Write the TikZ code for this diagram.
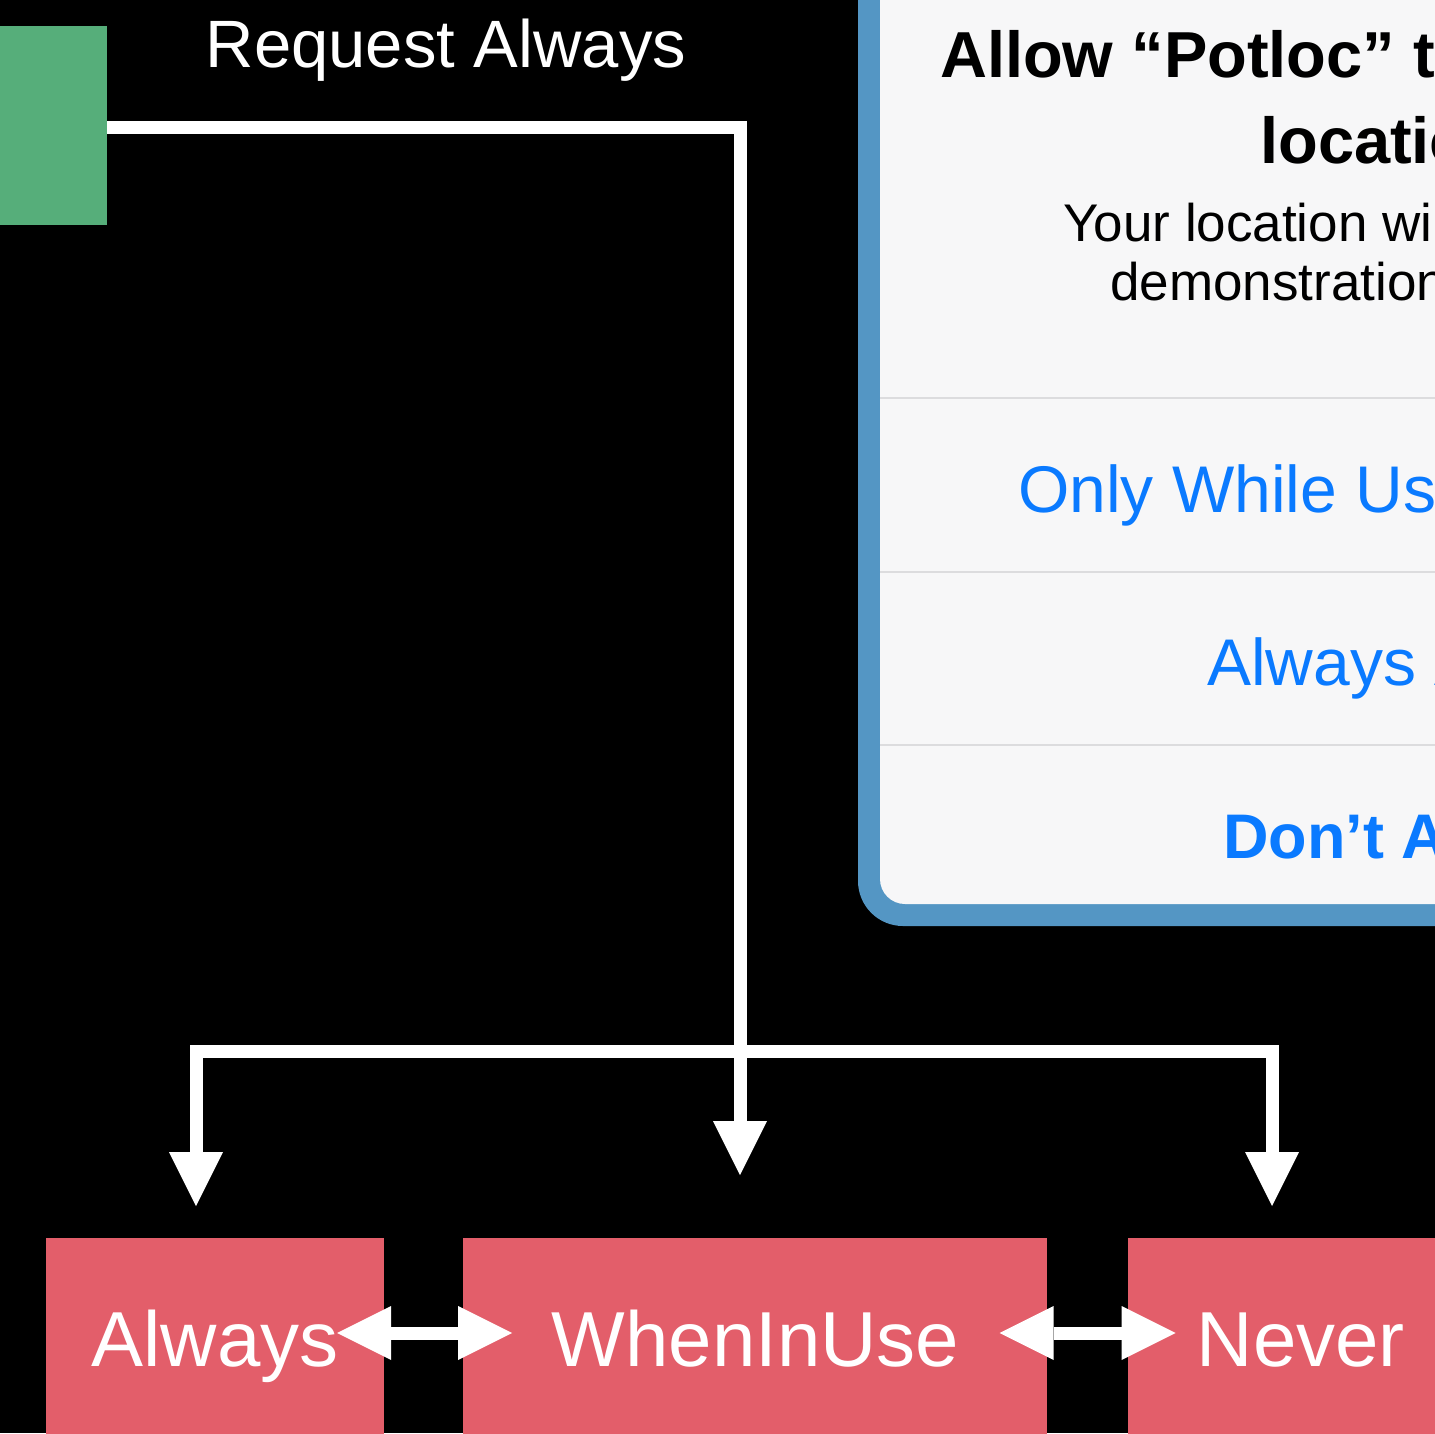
\documentclass[tikz,border=0pt]{standalone}
\usepackage{fontspec}
\setmainfont{Liberation Sans}
\usepackage{xcolor}
\usepackage{tikz}
\usetikzlibrary{arrows.meta, positioning}

\definecolor{stategreen}{HTML}{56AE7A}
\definecolor{statered}{HTML}{E35E6A}
\definecolor{alertframe}{HTML}{5496C4}
\definecolor{alertbg}{HTML}{F7F7F8}
\definecolor{alertrule}{HTML}{DCDCDE}
\definecolor{iosblue}{HTML}{0A7AFF}

\begin{document}
\begin{tikzpicture}[
      x=1pt, y=-1pt,
      >={Triangle[length=54pt, width=54pt, line width=0pt]},
      wire/.style={draw=white, line width=13pt},
      statebox/.style={rectangle, fill=statered, text=white, inner sep=0pt,
        minimum width=#1, minimum height=200pt, text height=56pt, text depth=0pt,
        font=\fontsize{78}{90}\selectfont},
      alerttext/.style={anchor=base west, inner sep=0pt, text=#1},
      node distance=79pt
    ]
      \useasboundingbox (0,0) rectangle (1435,1433);
      \fill[black] (0,0) rectangle (1435,1433);
      \clip (0,0) rectangle (1435,1433);

      % alert on the right
      \fill[alertframe, rounded corners=45pt] (858,-60) rectangle (1520,926);
      \fill[alertbg, rounded corners=25pt] (880,-60) rectangle (1520,904);
      \foreach \y in {398,572,745}
        \draw[alertrule, line width=2pt] (880,\y) -- (1435,\y);
      \node[alerttext=black, font=\fontsize{65}{78}\selectfont\bfseries] (title1) at (940,77) {Allow “Potloc” to};
      \node[alerttext=black, font=\fontsize{65}{78}\selectfont\bfseries] (title2) at (1260,163) {location};
      \node[alerttext=black, font=\fontsize{53}{64}\selectfont] (body1) at (1063,241) {Your location will};
      \node[alerttext=black, font=\fontsize{53}{64}\selectfont] (body2) at (1110,300) {demonstration};
      \node[alerttext=iosblue, font=\fontsize{66}{80}\selectfont] (btnuse) at (1018,512) {Only While Using};
      \node[alerttext=iosblue, font=\fontsize{66}{80}\selectfont] (btnalways) at (1207,685) {Always Allow};
      \node[alerttext=iosblue, font=\fontsize{63}{76}\selectfont\bfseries] (btnnever) at (1223,858) {Don’t Allow};

      % states
      \node[rectangle, fill=stategreen, minimum width=107pt, minimum height=199pt, inner sep=0pt] (req) at (53.5,125.5) {};
      \node[text=white, font=\fontsize{67}{80}\selectfont, anchor=base, inner sep=0pt] (reqlabel) at (446,67) {Request Always};
      \node[statebox=338pt] (always) at (215,1338) {Always};
      \node[statebox=584pt, right=of always] (wheninuse) {WhenInUse};
      \node[statebox=346pt, right=80pt of wheninuse] (never) {Never};

      \coordinate (split) at (740,1051);
      \coordinate (tipA) at (196,1206);
      \coordinate (tipB) at (740,1175);
      \coordinate (tipC) at (1272,1206);

      \draw[wire, ->] ([yshift=-2pt]req.east) -| (split) -- (tipB);
      \draw[wire, ->] (split) -| (tipA);
      \draw[wire, ->] (split) -| (tipC);

      \draw[wire, <->] ([xshift=-47pt, yshift=5pt]always.east) -- ([xshift=49pt, yshift=5pt]wheninuse.west);
      \draw[wire, <->] ([xshift=-48pt, yshift=5pt]wheninuse.east) -- ([xshift=48pt, yshift=5pt]never.west);
    \end{tikzpicture}
\end{document}
